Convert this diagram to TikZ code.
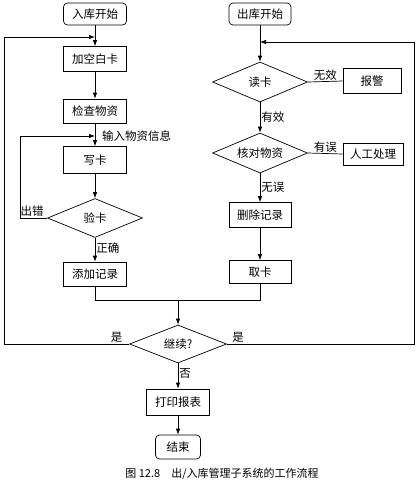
\documentclass[tikz,border=0pt]{standalone}
\usepackage{fontspec}
\newfontfamily\cjk{Noto Sans CJK SC}
\usetikzlibrary{shapes.geometric,arrows.meta}
\begin{document}
\begin{tikzpicture}[x=1pt,y=-1pt,
  every node/.style={font=\cjk\fontsize{11.5}{13}\selectfont},
  box/.style={draw,line width=0.7pt,minimum width=63pt,minimum height=25pt,inner sep=0pt},
  rbox/.style={box,rounded corners=4pt},
  dia/.style={draw,line width=0.7pt,diamond,aspect=2.5,inner sep=0pt,minimum width=95pt,minimum height=39pt},
  line/.style={line width=0.7pt},
  arr/.style={line,-{Latex[length=6pt,width=4.5pt]}},
  lab/.style={inner sep=1pt}]
\useasboundingbox (0,0) rectangle (420,485);
% left column
\node[rbox,minimum height=22pt] (s1) at (95,14) {入库开始};
\node[box] (b1) at (95,59) {加空白卡};
\node[box,minimum height=24pt] (b2) at (95,111) {检查物资};
\node[box,minimum height=27pt] (b3) at (95,160) {写卡};
\node[dia] (d1) at (95,218) {验卡};
\node[box,minimum height=24pt] (b4) at (95,274) {添加记录};
% right column
\node[rbox,minimum width=62pt,minimum height=22pt] (s2) at (260,14) {出库开始};
\node[dia,minimum height=40pt] (d2) at (260,82) {读卡};
\node[box,minimum width=58pt] (al) at (372,81) {报警};
\node[dia,minimum height=40pt] (d3) at (260,153) {核对物资};
\node[box,minimum width=60pt,minimum height=22pt] (mn) at (373,154) {人工处理};
\node[box,minimum width=62pt] (b5) at (260,215) {删除记录};
\node[box,minimum width=62pt,minimum height=23pt] (b6) at (260,272) {取卡};
% bottom
\node[dia,minimum width=97pt,minimum height=38pt] (d4) at (178,344) {继续?};
\node[box,minimum height=26pt] (b7) at (178,402) {打印报表};
\node[rbox,minimum width=45pt,minimum height=24pt] (e) at (178,447) {结束};
\node[font=\cjk\fontsize{11}{13}\selectfont] (cap) at (222,474) {图 12.8\quad 出/入库管理子系统的工作流程};
% junctions
\coordinate (j1) at (95,37);
\coordinate (j2) at (95,136);
\coordinate (j3) at (260,42);
\coordinate (m) at (178,300);
% connectors
\draw[arr] (s1) -- (b1);
\draw[arr] (b1) -- (b2);
\draw[arr] (b2) -- (b3);
\draw[arr] (b3) -- (d1);
\draw[arr] (d1) -- node[lab,right,pos=0.45] {正确} (b4);
\draw[arr] (d1.west) -- node[lab,above,pos=0.55] {出错} (20,218) |- (j2);
\node[lab,right] (info) at (101,136) {输入物资信息};
\draw[line] (b4.south) |- (m);
\draw[line] (b6.south) |- (m);
\draw[arr] (m) -- (d4.north);
\draw[arr] (d4.west) -- node[lab,above,pos=0.1] {是} (4,344) |- (j1);
\draw[arr] (d4.east) -- node[lab,above,pos=0.06] {是} (414,344) |- (j3);
\draw[arr] (s2) -- (d2);
\draw[line] (d2.east) -- node[lab,above] {无效} (al.west);
\draw[arr] (d2) -- node[lab,right] {有效} (d3);
\draw[line] (d3.east) -- node[lab,above] {有误} (mn.west);
\draw[arr] (d3) -- node[lab,right] {无误} (b5);
\draw[arr] (b5) -- (b6);
\draw[arr] (d4) -- node[lab,right,pos=0.4] {否} (b7);
\draw[arr] (b7) -- (e);
\end{tikzpicture}
\end{document}
